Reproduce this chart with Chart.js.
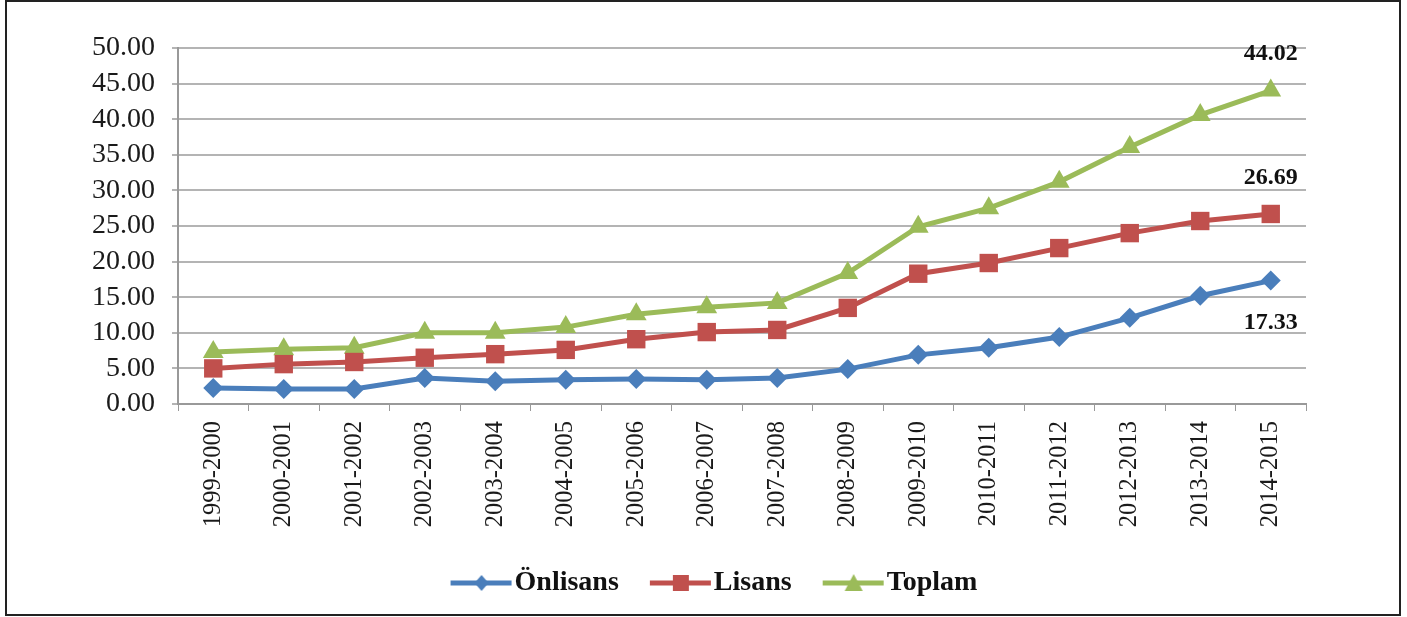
<!DOCTYPE html>
<html>
<head>
<meta charset="utf-8">
<script src="https://cdn.jsdelivr.net/npm/chart.js@4"></script>
<style>
  html, body { margin: 0; padding: 0; background: #fff; }
  #wrap { position: relative; width: 1407px; height: 617px; }
  #frame { position: absolute; left: 5px; top: 0; width: 1396px; height: 616px; border: 2px solid #222; box-sizing: border-box; pointer-events: none; }
</style>
</head>
<body>
<div id="wrap">
  <canvas id="myChart"></canvas>
  <div id="frame"></div>
</div>
<script>
const years = ['1999-2000', '2000-2001', '2001-2002', '2002-2003', '2003-2004', '2004-2005', '2005-2006', '2006-2007',
    '2007-2008', '2008-2009', '2009-2010', '2010-2011', '2011-2012', '2012-2013', '2013-2014', '2014-2015'];
const onlisans = [2.25, 2.1, 2.1, 3.65, 3.2, 3.4, 3.5, 3.4, 3.65, 4.9, 6.9, 7.9, 9.4, 12.1, 15.2, 17.33];
const lisans = [5.0, 5.6, 5.9, 6.5, 7.0, 7.6, 9.1, 10.1, 10.4, 13.5, 18.3, 19.8, 21.9, 24.0, 25.7, 26.69];
const toplam = [7.3, 7.7, 7.9, 10.0, 10.0, 10.8, 12.6, 13.6, 14.2, 18.4, 24.9, 27.5, 31.2, 36.1, 40.6, 44.02];

const blue = '#4a7ebb';
const red = '#c0504d';
const green = '#9bbb59';
const serif = '"Liberation Serif", "DejaVu Serif", serif';

// legend swatch: a line with the marker on it, pushed to the right side of the canvas
const BOXW = 71;
function swatch(color, shape) {
    const c = document.createElement('canvas');
    c.width = BOXW + 24; c.height = 24;
    const g = c.getContext('2d');
    const x0 = c.width - 62, mid = c.width - 31;
    g.strokeStyle = color; g.fillStyle = color; g.lineWidth = 5;
    g.beginPath(); g.moveTo(x0, 12); g.lineTo(c.width - 1, 12); g.stroke();
    g.beginPath();
    if (shape === 'diamond') {
        g.moveTo(mid, 4); g.lineTo(mid + 7, 12); g.lineTo(mid, 20); g.lineTo(mid - 7, 12);
    } else if (shape === 'square') {
        g.rect(mid - 8, 4, 16, 16);
    } else {
        g.moveTo(mid, 3); g.lineTo(mid + 9, 20); g.lineTo(mid - 9, 20);
    }
    g.closePath(); g.fill();
    return c;
}
const swatches = [swatch(blue, 'diamond'), swatch(red, 'square'), swatch(green, 'triangle')];

// value labels next to the last point of each line
const endLabels = {
    id: 'endLabels',
    afterDatasetsDraw(chart) {
        const offsets = [42, -36, -37];
        const ctx = chart.ctx;
        ctx.save();
        ctx.font = 'bold 24px ' + serif;
        ctx.fillStyle = '#111';
        ctx.textAlign = 'center';
        ctx.textBaseline = 'middle';
        chart.data.datasets.forEach((ds, i) => {
            const meta = chart.getDatasetMeta(i);
            const last = meta.data[meta.data.length - 1];
            const v = ds.data[ds.data.length - 1];
            ctx.fillText(v.toFixed(2), last.x, last.y + offsets[i]);
        });
        ctx.restore();
    }
};

const ctx = document.getElementById('myChart').getContext('2d');
var myChart = new Chart(ctx, {
    type: 'line',
    data: {
        labels: years,
        datasets: [{
            label: 'Önlisans',
            data: onlisans,
            borderColor: blue,
            backgroundColor: blue,
            pointStyle: 'rectRot',
            pointRadius: 10,
        }, {
            label: 'Lisans',
            data: lisans,
            borderColor: red,
            backgroundColor: red,
            pointStyle: 'rect',
            pointRadius: 13,
        }, {
            label: 'Toplam',
            data: toplam,
            borderColor: green,
            backgroundColor: green,
            pointStyle: 'triangle',
            pointRadius: 12,
        }]
    },
    options: {
        responsive: true,
        maintainAspectRatio: false,
        animation: false,
        layout: { padding: { left: 0, right: 0, top: 48, bottom: 10 } },
        elements: {
            line: { borderWidth: 5, tension: 0 },
            point: { borderWidth: 0, hoverRadius: 12 }
        },
        scales: {
            x: {
                offset: true,
                afterFit: (s) => { s.height = 155; },
                grid: { drawOnChartArea: false, drawTicks: true, tickLength: 7, color: '#999', offset: true },
                border: { color: '#999', width: 2 },
                ticks: {
                    minRotation: 90, maxRotation: 90, padding: 10, autoSkip: false,
                    color: '#1a1a1a', font: { family: serif, size: 24.5 }
                }
            },
            y: {
                min: 0, max: 50,
                afterFit: (s) => { s.width = 178; },
                grid: { color: '#b4b4b4', lineWidth: 2, tickLength: 6 },
                border: { color: '#999', width: 2 },
                ticks: {
                    stepSize: 5, padding: 17, autoSkip: false,
                    color: '#1a1a1a', font: { family: serif, size: 28 },
                    callback: (v) => v.toFixed(2)
                }
            },
            // empty right-hand spacer so the plot ends where the picture's does
            spacer: {
                type: 'linear',
                position: 'right',
                afterFit: (s) => { s.width = 101; },
                grid: { display: false },
                border: { display: false },
                ticks: { display: false }
            }
        },
        plugins: {
            tooltip: { enabled: false },
            legend: {
                position: 'bottom',
                labels: {
                    usePointStyle: true,
                    pointStyleWidth: BOXW,
                    padding: 10,
                    color: '#111',
                    font: { family: serif, size: 28, weight: 'bold' },
                    generateLabels: (chart) => {
                        const items = Chart.defaults.plugins.legend.labels.generateLabels(chart);
                        items.forEach((it, i) => { it.pointStyle = swatches[i]; });
                        return items;
                    }
                }
            }
        }
    },
    plugins: [endLabels]
});
</script>
</body>
</html>
